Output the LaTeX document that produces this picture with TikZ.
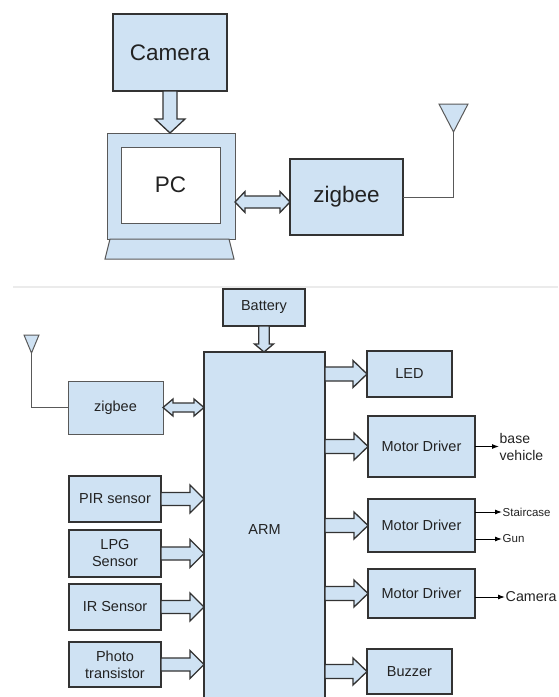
\documentclass[tikz,border=0pt]{standalone}
\usepackage{fontspec}
\setmainfont{Liberation Sans}
\usetikzlibrary{arrows.meta,calc}
\definecolor{boxblue}{HTML}{CFE2F3}
\definecolor{edge}{HTML}{333333}
\definecolor{thinedge}{HTML}{595959}
\definecolor{txt}{HTML}{222222}
\tikzset{
 blk/.style={draw=edge, line width=1.6pt, fill=boxblue, rectangle, inner sep=0pt, outer sep=0pt, text=txt, align=center},
 thinblk/.style={blk, draw=thinedge, line width=1pt},
 bigtxt/.style={font=\fontsize{22.5}{26}\selectfont},
 midtxt/.style={font=\fontsize{14.5}{17}\selectfont},
 smalltxt/.style={font=\fontsize{11.5}{13}\selectfont},
 barrow/.style={draw=edge, line width=1.3pt, fill=boxblue, line join=miter},
 wire/.style={draw=thinedge, line width=1pt},
 sig/.style={draw=black, line width=1pt, -{Latex[length=7pt,width=5pt]}},
 lbl/.style={anchor=west, inner sep=0.5pt, align=left, text=txt},
}
% horizontal block arrow: #1 start, #2 tip (same y), #3 half shaft, #4 half head, #5 head length
\newcommand\harrow[5]{\draw[barrow] ([yshift=#3]#1) -- ([xshift=-#5,yshift=#3]#2) -- ([xshift=-#5,yshift=#4]#2) -- (#2) -- ([xshift=-#5,yshift=-#4]#2) -- ([xshift=-#5,yshift=-#3]#2) -- ([yshift=-#3]#1) -- cycle;}
% double-headed horizontal arrow: #1 left tip, #2 right tip
\newcommand\dharrow[5]{\draw[barrow] (#1) -- ([xshift=#5,yshift=#4]#1) -- ([xshift=#5,yshift=#3]#1) -- ([xshift=-#5,yshift=#3]#2) -- ([xshift=-#5,yshift=#4]#2) -- (#2) -- ([xshift=-#5,yshift=-#4]#2) -- ([xshift=-#5,yshift=-#3]#2) -- ([xshift=#5,yshift=-#3]#1) -- ([xshift=#5,yshift=-#4]#1) -- cycle;}
% vertical downward block arrow: #1 top start, #2 bottom tip
\newcommand\varrow[5]{\draw[barrow] ([xshift=-#3]#1) -- ([xshift=-#3,yshift=#5]#2) -- ([xshift=-#4,yshift=#5]#2) -- (#2) -- ([xshift=#4,yshift=#5]#2) -- ([xshift=#3,yshift=#5]#2) -- ([xshift=#3]#1) -- cycle;}
\begin{document}
\begin{tikzpicture}[x=1pt,y=-1pt]
\useasboundingbox (0,0) rectangle (558,697);
\clip (0,0) rectangle (558,697);

% ---------- top diagram ----------
\node[blk, bigtxt, minimum width=114pt, minimum height=77pt] (cam) at (170,52.5) {Camera};
\node[thinblk, minimum width=128pt, minimum height=106pt] (mon) at (171,186) {};
\node[thinblk, fill=white, bigtxt, minimum width=99pt, minimum height=76pt] (pc) at (170.5,185) {PC};
\draw[draw=thinedge, line width=1pt, fill=boxblue] (110,239) -- (229,239) -- (234,259) -- (105,259) -- cycle;
\node[blk, bigtxt, minimum width=113pt, minimum height=76pt] (zig1) at (346.5,197) {zigbee};

\coordinate (camT) at (cam.south |- mon.north);
\varrow{cam.south}{camT}{7pt}{15pt}{14pt}

\coordinate (pcR) at ($(mon.east |- zig1.west)+(0,5)$);
\coordinate (zgL) at (zig1.west |- pcR);
\dharrow{pcR}{zgL}{6pt}{10.5pt}{10pt}

\draw[wire, fill=boxblue] (439,104) -- (468,104) -- (453.5,132) -- cycle;
\coordinate (ant1) at (453.5,132);
\draw[wire] (zig1.east) -| (ant1);

% separator
\draw[black!8, line width=2pt] (13,287) -- (558,287);

% ---------- bottom diagram ----------
\node[blk, midtxt, minimum width=82pt, minimum height=37pt] (batt) at (264,307.5) {Battery};
\node[blk, midtxt, minimum width=121pt, minimum height=356pt] (arm) at (264.5,530) {ARM};
\coordinate (battT) at (batt.south |- arm.north);
\varrow{batt.south}{battT}{5.3pt}{9.5pt}{8pt}

% zigbee + antenna
\node[thinblk, midtxt, minimum width=95pt, minimum height=53pt] (zig2) at (115.5,407.5) {zigbee};
\draw[wire, fill=boxblue] (24,335) -- (39,335) -- (31.5,353) -- cycle;
\coordinate (ant2) at (31.5,353);
\draw[wire] (ant2) |- (zig2.west);
\coordinate (armZ) at (arm.west |- zig2.east);
\dharrow{zig2.east}{armZ}{4.5pt}{8.5pt}{10pt}

% sensors
\node[blk, midtxt, minimum width=92pt, minimum height=46pt] (pir) at (115,499) {PIR sensor};
\node[blk, midtxt, minimum width=92pt, minimum height=47pt] (lpg) at (115,553.5) {LPG\\Sensor};
\node[blk, midtxt, minimum width=92pt, minimum height=46pt] (ir) at (115,607) {IR Sensor};
\node[blk, midtxt, minimum width=92pt, minimum height=45pt] (photo) at (115,664.5) {Photo\\transistor};
\foreach \s in {pir,lpg,ir,photo}{
  \coordinate (\s T) at (\s.east -| arm.west);
  \harrow{\s.east}{\s T}{6.5pt}{14pt}{14pt}
}

% outputs
\node[blk, midtxt, minimum width=85pt, minimum height=46pt] (led) at (409.5,374) {LED};
\node[blk, midtxt, minimum width=107pt, minimum height=61pt] (md1) at (421.5,446.5) {Motor Driver};
\node[blk, midtxt, minimum width=107pt, minimum height=53pt] (md2) at (421.5,525.5) {Motor Driver};
\node[blk, midtxt, minimum width=107pt, minimum height=49pt] (md3) at (421.5,593.5) {Motor Driver};
\node[blk, midtxt, minimum width=85pt, minimum height=45pt] (buz) at (409.5,671.5) {Buzzer};
\foreach \o in {led,md1,md2,md3,buz}{
  \coordinate (\o S) at (arm.east |- \o.west);
  \harrow{\o S}{\o.west}{7pt}{13.5pt}{14pt}
}

% output signals
\node[lbl, font=\fontsize{14}{17}\selectfont] (bv) at (499,446.5) {base\\vehicle};
\draw[sig] (md1.east |- bv.west) -- (bv.west);
\node[lbl, smalltxt] (stair) at (502,512) {Staircase};
\draw[sig] (md2.east |- stair.west) -- (stair.west);
\node[lbl, smalltxt] (gun) at (502,539) {Gun};
\draw[sig] (md2.east |- gun.west) -- (gun.west);
\node[lbl, font=\fontsize{14.3}{17}\selectfont] (camout) at (505,597) {Camera};
\draw[sig] (md3.east |- camout.west) -- (camout.west);
\end{tikzpicture}
\end{document}
